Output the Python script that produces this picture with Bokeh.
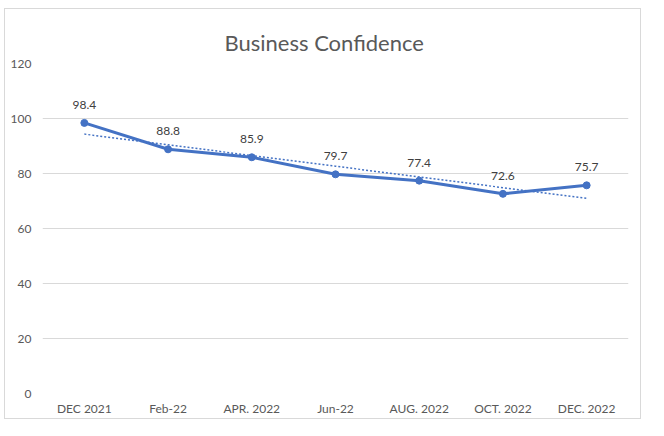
import numpy as np

from bokeh.core.properties import value
from bokeh.embed import file_html
from bokeh.layouts import column, row
from bokeh.models import ColumnDataSource, Spacer
from bokeh.plotting import figure
from bokeh.resources import INLINE

months = ["DEC 2021", "Feb-22", "APR. 2022", "Jun-22", "AUG. 2022", "OCT. 2022", "DEC. 2022"]
confidence = [98.4, 88.8, 85.9, 79.7, 77.4, 72.6, 75.7]
y_ticks = [0, 20, 40, 60, 80, 100, 120]

# linear trendline, same as Excel's
idx = np.arange(len(months))
slope, icpt = np.polyfit(idx, confidence, 1)
trend = slope * idx + icpt

src = ColumnDataSource(dict(
    month=months,
    conf=confidence,
    label=[f"{v:.1f}" for v in confidence],
    trend=trend,
))

blue = "#4472C4"
grey = "#595959"

p = figure(x_range=months, y_range=(0, 120),
           frame_width=584, frame_height=328,
           output_backend="svg", toolbar_location=None,
           title="Business Confidence",
           min_border_left=37, min_border_right=14,
           min_border_top=54, min_border_bottom=27)
p.styles = {"border": "1px solid #d9d9d9"}
p.outline_line_color = None
p.x_range.range_padding = 0

p.title.align = "left"
p.title.offset = 182
p.title.standoff = 16
p.title.text_font = "Lato"
p.title.text_font_size = "22px"
p.title.text_font_style = "normal"
p.title.text_color = grey

p.line("month", "trend", source=src, color=blue, line_width=1.5, line_dash="2 2")
p.line("month", "conf", source=src, color=blue, line_width=3)
p.scatter("month", "conf", source=src, size=7, color=blue)
p.text("month", "conf", text="label", source=src, y_offset=-14,
       text_align="center", text_baseline="bottom", text_font=value("Lato"),
       text_font_size="12px", text_color="#404040")

p.xgrid.grid_line_color = None
p.ygrid.grid_line_color = "#d9d9d9"
p.yaxis.ticker = y_ticks
for ax in (p.xaxis[0], p.yaxis[0]):
    ax.axis_line_color = None
    ax.major_tick_line_color = None
    ax.minor_tick_line_color = None
    ax.major_tick_out = 0
    ax.major_label_text_font = "Lato"
    ax.major_label_text_font_size = "12px"
    ax.major_label_text_color = grey
p.yaxis.major_label_standoff = 11
p.xaxis.major_label_standoff = 7

# offset the chart box inside the page, as in the original
root = column(Spacer(height=8), row(Spacer(width=4), p))
open("out.html", "w").write(file_html(root, INLINE))
